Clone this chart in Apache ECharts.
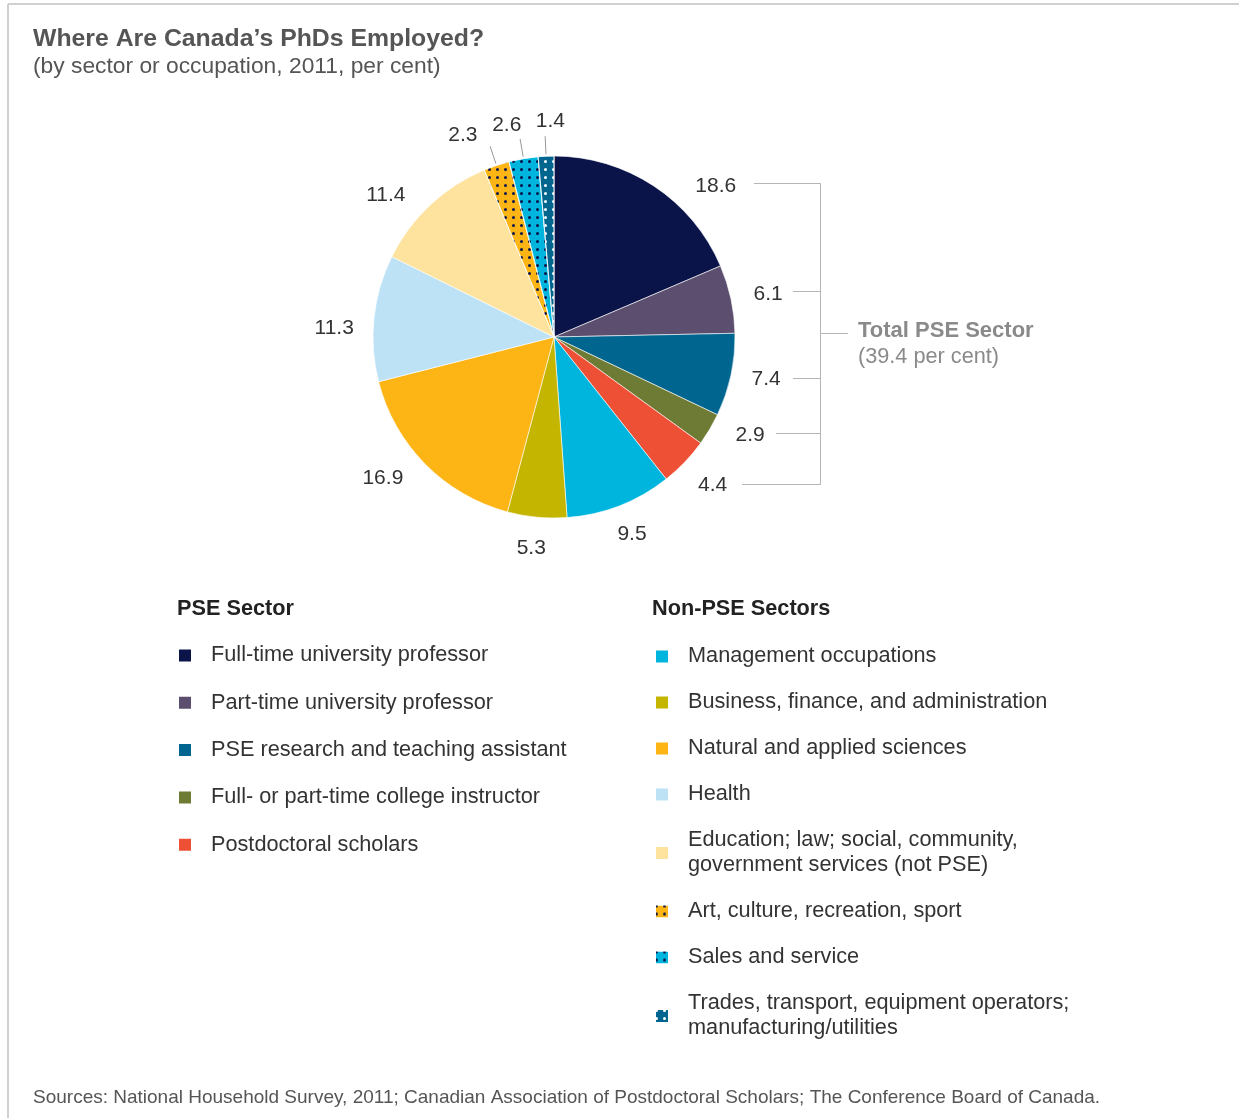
<!DOCTYPE html>
<html>
<head>
<meta charset="utf-8">
<script src="https://cdn.jsdelivr.net/npm/echarts@6/dist/echarts.min.js"></script>
<style>
html,body{margin:0;padding:0;background:#fff;}
#chart{width:1239px;height:1118px;}
</style>
</head>
<body>
<div id="chart"></div>
<script>
// ---- data ----
const categories = [
  'Full-time university professor',
  'Part-time university professor',
  'PSE research and teaching assistant',
  'Full- or part-time college instructor',
  'Postdoctoral scholars',
  'Management occupations',
  'Business, finance, and administration',
  'Natural and applied sciences',
  'Health',
  'Education; law; social, community, government services (not PSE)',
  'Art, culture, recreation, sport',
  'Sales and service',
  'Trades, transport, equipment operators; manufacturing/utilities'
];
const values = [18.6, 6.1, 7.4, 2.9, 4.4, 9.5, 5.3, 16.9, 11.3, 11.4, 2.3, 2.6, 1.4];
const pseNames = categories.slice(0, 5);
const nonPseNames = categories.slice(5);

// ---- styles ----
const colors = ['#0a1448', '#5b4e6e', '#00668f', '#6e7b35', '#ee5035', '#00b5dd',
  '#c4b500', '#fcb515', '#bde2f6', '#fde39e', '#fcb515', '#00b5dd', '#00668f'];
const decals = {
  10: {symbol: 'circle', symbolSize: 1, color: '#0a1448', dashArrayX: [2.6, 4.4], dashArrayY: [2.6, 4.4]},
  11: {symbol: 'circle', symbolSize: 1, color: '#0a1448', dashArrayX: [2.6, 4.4], dashArrayY: [2.6, 4.4]},
  12: {symbol: 'circle', symbolSize: 1, color: '#ffffff', dashArrayX: [2.6, 4.4], dashArrayY: [2.6, 4.4]}
};
const labelNudge = [[40, 34], [-2, 4], [-4, -4], [6, -14], [-1, -5], [-2, -9], [-2, -9],
  [-14, -14], [0, 14], [-17, 19], [-21, 8], [-10, 6], [6, 5]];
const CX = 554, CY = 337, R = 181;
const FONT = '"Liberation Sans", Arial, Helvetica, sans-serif';

const chart = echarts.init(document.getElementById('chart'), null, {renderer: 'canvas'});

const pieData = categories.map((n, i) => {
  const it = {name: n, value: values[i], itemStyle: {color: colors[i]}};
  if (decals[i]) it.itemStyle.decal = decals[i];
  return it;
});
const ringData = categories.map((n, i) => ({
  name: n, value: values[i],
  label: {offset: labelNudge[i]}
}));

// leader lines for small slices, computed from slice mid-angles
const total = values.reduce((a, b) => a + b, 0);
const leaders = [];
let cum = 0;
values.forEach((v, i) => {
  const mid = (cum + v / 2) / total * 2 * Math.PI;
  cum += v;
  if (i >= 10) {
    leaders.push({
      type: 'line', silent: true,
      shape: {
        x1: CX + 183 * Math.sin(mid), y1: CY - 183 * Math.cos(mid),
        x2: CX + 201 * Math.sin(mid), y2: CY - 201 * Math.cos(mid)
      },
      style: {stroke: '#999', lineWidth: 1}
    });
  }
});
const pseTotal = values.slice(0, 5).reduce((a, b) => a + b, 0).toFixed(1);

const wrap = name => name
  .replace('community, ', 'community,\n')
  .replace('operators; ', 'operators;\n');

const bracketColor = '#b5b5b5';
const hl = (x1, y, x2) => ({type: 'line', silent: true, shape: {x1, y1: y, x2, y2: y}, style: {stroke: bracketColor, lineWidth: 1}});

const option = {
  backgroundColor: '#fff',
  animation: false,
  textStyle: {fontFamily: FONT},
  title: [
    {text: 'Where Are Canada\u2019s PhDs Employed?', left: 33, top: 25, padding: 0,
      textStyle: {fontFamily: FONT, fontSize: 24.8, fontWeight: 'bold', color: '#555', lineHeight: 28}},
    {text: '(by sector or occupation, 2011, per cent)', left: 33, top: 54, padding: 0,
      textStyle: {fontFamily: FONT, fontSize: 22.8, fontWeight: 'normal', color: '#555', lineHeight: 26}},
    {text: 'PSE Sector', left: 177, top: 596, padding: 0,
      textStyle: {fontFamily: FONT, fontSize: 21.7, fontWeight: 'bold', color: '#222', lineHeight: 26}},
    {text: 'Non-PSE Sectors', left: 652, top: 596, padding: 0,
      textStyle: {fontFamily: FONT, fontSize: 21.7, fontWeight: 'bold', color: '#222', lineHeight: 26}},
    {text: 'Total PSE Sector', left: 858, top: 318, padding: 0,
      textStyle: {fontFamily: FONT, fontSize: 22, fontWeight: 'bold', color: '#8a8a8a', lineHeight: 26}},
    {text: '(' + pseTotal + ' per cent)', left: 858, top: 344, padding: 0,
      textStyle: {fontFamily: FONT, fontSize: 21.7, fontWeight: 'normal', color: '#8a8a8a', lineHeight: 26}},
    {text: 'Sources: National Household Survey, 2011; Canadian Association of Postdoctoral Scholars; The Conference Board of Canada.',
      left: 33, top: 1087, padding: 0,
      textStyle: {fontFamily: FONT, fontSize: 19, fontWeight: 'normal', color: '#555', lineHeight: 21}}
  ],
  legend: [
    {data: pseNames, orient: 'vertical', left: 177, top: 643, padding: 0,
      itemWidth: 14, itemHeight: 14, itemGap: 22.3, icon: 'rect',
      textStyle: {fontFamily: FONT, fontSize: 21.7, color: '#333', lineHeight: 25, padding: [0, 0, 0, 14]}},
    {data: nonPseNames, orient: 'vertical', left: 654, top: 644, padding: 0,
      itemWidth: 14, itemHeight: 14, itemGap: 21, icon: 'rect',
      formatter: wrap,
      textStyle: {fontFamily: FONT, fontSize: 21.7, color: '#333', lineHeight: 25, padding: [0, 0, 0, 14]}}
  ],
  series: [
    {
      type: 'pie', center: [CX, CY], radius: [0, R], startAngle: 90, clockwise: true,
      avoidLabelOverlap: false,
      label: {show: false}, labelLine: {show: false},
      itemStyle: {borderColor: '#ffffff', borderWidth: 0.6},
      emphasis: {disabled: true},
      data: pieData
    },
    {
      type: 'pie', center: [CX, CY], radius: [200, 236], startAngle: 90, clockwise: true,
      silent: true, avoidLabelOverlap: false,
      itemStyle: {color: 'rgba(0,0,0,0)'},
      label: {show: true, position: 'inside', fontFamily: FONT, fontSize: 21, color: '#333',
        textBorderWidth: 0, formatter: p => p.value.toFixed(1)},
      labelLine: {show: false},
      emphasis: {disabled: true},
      data: ringData
    }
  ],
  graphic: [
    {type: 'line', silent: true, shape: {x1: 8, y1: 4, x2: 1239, y2: 4}, style: {stroke: '#d0d0d0', lineWidth: 2}},
    {type: 'line', silent: true, shape: {x1: 8, y1: 4, x2: 8, y2: 1118}, style: {stroke: '#d0d0d0', lineWidth: 2}},
    hl(754, 183.5, 820.5), hl(793, 291.5, 820.5), hl(793, 378.5, 820.5),
    hl(776, 433.5, 820.5), hl(742, 484.5, 820.5), hl(820.5, 333.5, 848),
    {type: 'line', silent: true, shape: {x1: 820.5, y1: 183.5, x2: 820.5, y2: 484.5}, style: {stroke: bracketColor, lineWidth: 1}}
  ].concat(leaders)
};
chart.setOption(option);
</script>
</body>
</html>
